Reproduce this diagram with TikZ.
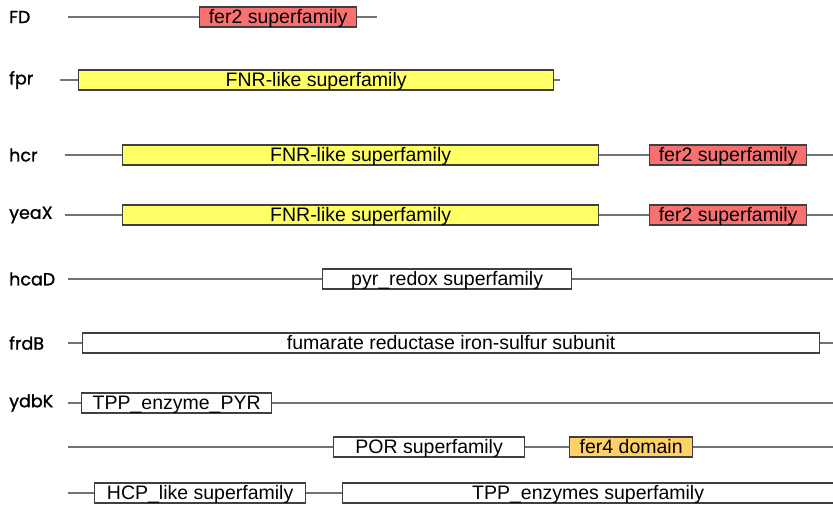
\documentclass[tikz,border=0pt]{standalone}
\usepackage{fontspec}
\setmainfont{Liberation Sans}
\newfontfamily\genefont[FakeBold=1.2]{Poppins}
\usetikzlibrary{positioning}

\definecolor{fnryellow}{HTML}{FFFF66}
\definecolor{ferred}{HTML}{F87070}
\definecolor{ferorange}{HTML}{FFD166}

\tikzset{
  backbone/.style={line width=1.8pt,color=black!55},
  dombox/.style={draw=black!75,line width=1.3pt,minimum height=20pt,inner sep=0pt,
    text height=15.5pt,text depth=2.5pt,
    anchor=west,font=\fontsize{19.5}{19.5}\selectfont},
  fnrbox/.style={dombox,fill=fnryellow},
  fertwobox/.style={dombox,fill=ferred},
  ferfourbox/.style={dombox,fill=ferorange},
  whitebox/.style={dombox,fill=white},
  gene/.style={anchor=west,inner sep=0pt,font=\genefont\fontsize{17.5}{17.5}\selectfont}
}

\begin{document}
\begin{tikzpicture}[x=1pt,y=-1pt]
\useasboundingbox (0,0) rectangle (833,506);

% FD
\node[gene] (FD) at (9,17) {FD};
\coordinate (FDs) at (68,17);
\coordinate (FDe) at (377,17);
\node[fertwobox,minimum width=157pt] (FDa) at (199,17) {fer2 superfamily};
\draw[backbone] (FDs) -- (FDa.west) (FDa.east) -- (FDe);

% fpr
\node[gene] (fpr) at (9,80) {fpr};
\coordinate (fprs) at (60,80);
\coordinate (fpre) at (560,80);
\node[fnrbox,minimum width=475pt] (fpra) at (78,80) {FNR-like superfamily};
\draw[backbone] (fprs) -- (fpra.west) (fpra.east) -- (fpre);

% hcr
\node[gene] (hcr) at (9,155) {hcr};
\coordinate (hcrs) at (65,155);
\coordinate (hcre) at (834,155);
\node[fnrbox,minimum width=476pt] (hcra) at (122,155) {FNR-like superfamily};
\node[fertwobox,minimum width=157pt] (hcrb) at (649,155) {fer2 superfamily};
\draw[backbone] (hcrs) -- (hcra.west) (hcra.east) -- (hcrb.west) (hcrb.east) -- (hcre);

% yeaX
\node[gene] (yeaX) at (9,215) {yeaX};
\coordinate (yeaXs) at (65,215);
\coordinate (yeaXe) at (834,215);
\node[fnrbox,minimum width=476pt] (yeaXa) at (122,215) {FNR-like superfamily};
\node[fertwobox,minimum width=157pt] (yeaXb) at (649,215) {fer2 superfamily};
\draw[backbone] (yeaXs) -- (yeaXa.west) (yeaXa.east) -- (yeaXb.west) (yeaXb.east) -- (yeaXe);

% hcaD
\node[gene] (hcaD) at (9,279) {hcaD};
\coordinate (hcaDs) at (68,279);
\coordinate (hcaDe) at (834,279);
\node[whitebox,minimum width=249pt] (hcaDa) at (322,279) {pyr\_redox superfamily};
\draw[backbone] (hcaDs) -- (hcaDa.west) (hcaDa.east) -- (hcaDe);

% frdB
\node[gene] (frdB) at (9,343) {frdB};
\coordinate (frdBs) at (68,343);
\coordinate (frdBe) at (834,343);
\node[whitebox,minimum width=737pt] (frdBa) at (82,343) {fumarate reductase iron-sulfur subunit};
\draw[backbone] (frdBs) -- (frdBa.west) (frdBa.east) -- (frdBe);

% ydbK
\node[gene] (ydbK) at (9,403) {ydbK};
\coordinate (ydbKs) at (68,403);
\coordinate (ydbKe) at (834,403);
\node[whitebox,minimum width=190pt] (ydbKa) at (81,403) {TPP\_enzyme\_PYR};
\node[whitebox,minimum width=191pt] (ydbKb) at (333,447) {POR superfamily};
\node[ferfourbox,minimum width=123pt] (ydbKc) at (569,447) {fer4 domain};
\node[whitebox,minimum width=211pt] (ydbKd) at (94,493) {HCP\_like superfamily};
\node[whitebox,minimum width=491pt] (ydbKf) at (342,493) {TPP\_enzymes superfamily};
\coordinate (ydbKs2) at (68,447);
\coordinate (ydbKe2) at (834,447);
\coordinate (ydbKs3) at (68,493);
\draw[backbone] (ydbKs) -- (ydbKa.west) (ydbKa.east) -- (ydbKe);
\draw[backbone] (ydbKs2) -- (ydbKb.west) (ydbKb.east) -- (ydbKc.west) (ydbKc.east) -- (ydbKe2);
\draw[backbone] (ydbKs3) -- (ydbKd.west) (ydbKd.east) -- (ydbKf.west);

\end{tikzpicture}
\end{document}
